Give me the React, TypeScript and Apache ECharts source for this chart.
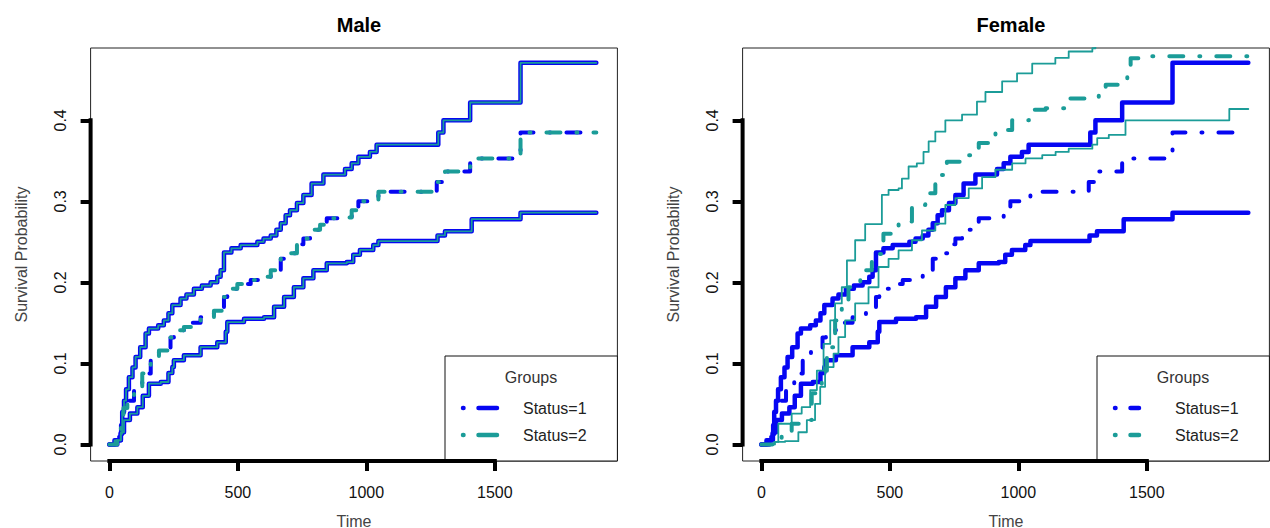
import React, { useEffect, useRef } from "react";
import * as echarts from "echarts";

// ---------- data ----------
const panelTitles = ["Male", "Female"];
const legendTitle = "Groups";
const groupLabels = ["Status=1", "Status=2"];
const xTicks = [0, 500, 1000, 1500];
const yTicks = [0, 0.1, 0.2, 0.3, 0.4];
const xAxisName = "Time";
const yAxisName = "Survival Probability";

// curves shared by Male Status=1, Male Status=2 and Female Status=1 (identical in the picture)
const sharedUpper = [
  [0, 0], [20, 0.005], [44, 0.013], [50, 0.04], [57, 0.054], [65, 0.068], [76, 0.083], [90, 0.095],
  [102, 0.108], [120, 0.12], [141, 0.137], [154, 0.143], [190, 0.147], [212, 0.153], [230, 0.162],
  [245, 0.172], [277, 0.18], [300, 0.185], [329, 0.192], [360, 0.196], [394, 0.2], [420, 0.207],
  [433, 0.215], [446, 0.237], [475, 0.242], [511, 0.246], [576, 0.25], [600, 0.254], [628, 0.258],
  [650, 0.265], [667, 0.273], [686, 0.283], [703, 0.289], [730, 0.298], [755, 0.308], [787, 0.322],
  [833, 0.333], [917, 0.34], [943, 0.347], [969, 0.355], [1014, 0.361], [1040, 0.37], [1280, 0.385],
  [1300, 0.4], [1404, 0.422], [1600, 0.471], [1895, 0.471],
];
const sharedEst = [
  [0, 0], [30, 0.009], [45, 0.03], [55, 0.045], [70, 0.054], [96, 0.071], [128, 0.0875], [161, 0.108],
  [193, 0.116], [238, 0.132], [251, 0.141], [290, 0.145], [320, 0.15], [355, 0.157], [407, 0.165],
  [446, 0.182], [459, 0.192], [498, 0.198], [550, 0.203], [602, 0.207], [628, 0.215], [667, 0.229],
  [700, 0.236], [730, 0.247], [755, 0.254], [781, 0.265], [820, 0.271], [846, 0.279], [910, 0.28],
  [943, 0.289], [969, 0.3], [1014, 0.301], [1047, 0.312], [1274, 0.324], [1306, 0.337], [1404, 0.353],
  [1600, 0.385], [1895, 0.385],
];
const sharedLower = [
  [0, 0], [31, 0.005], [45, 0.015], [57, 0.03], [80, 0.038], [109, 0.046], [130, 0.06], [154, 0.075],
  [200, 0.077], [230, 0.088], [245, 0.0955], [251, 0.104], [290, 0.11], [355, 0.12], [420, 0.126],
  [453, 0.139], [459, 0.151], [524, 0.155], [602, 0.157], [641, 0.17], [680, 0.182], [718, 0.194],
  [755, 0.205], [794, 0.215], [846, 0.2235], [924, 0.225], [949, 0.234], [975, 0.24], [1027, 0.246],
  [1047, 0.251], [1277, 0.258], [1306, 0.263], [1410, 0.278], [1600, 0.286], [1895, 0.286],
];

// Female Status=2
const femaleS2Upper = [
  [0, 0], [50, 0.003], [66, 0.0255], [118, 0.038], [157, 0.046], [190, 0.067], [216, 0.091],
  [242, 0.124], [268, 0.153], [287, 0.174], [313, 0.194], [333, 0.227], [365, 0.252], [404, 0.272],
  [469, 0.308], [495, 0.314], [534, 0.316], [547, 0.328], [573, 0.343], [605, 0.347], [631, 0.361],
  [651, 0.374], [677, 0.386], [716, 0.4], [781, 0.407], [839, 0.423], [872, 0.435], [937, 0.448],
  [995, 0.458], [1054, 0.47], [1144, 0.477], [1196, 0.485], [1288, 0.489], [1300, 0.495], [1895, 0.52],
];
const femaleS2Est = [
  [0, 0], [60, 0.005], [79, 0.013], [118, 0.0255], [151, 0.03], [196, 0.063], [235, 0.091],
  [255, 0.12], [287, 0.153], [313, 0.174], [339, 0.194], [385, 0.215], [430, 0.235], [475, 0.26],
  [534, 0.275], [586, 0.2955], [638, 0.31], [677, 0.3325], [722, 0.349], [794, 0.357], [846, 0.372],
  [911, 0.388], [976, 0.4], [1041, 0.413], [1106, 0.415], [1184, 0.427], [1261, 0.429], [1313, 0.44],
  [1340, 0.444], [1392, 0.45], [1424, 0.462], [1437, 0.4765], [1497, 0.479], [1895, 0.479],
];
const femaleS2Lower = [
  [0, 0], [53, 0.003], [92, 0.004], [144, 0.015], [177, 0.03], [209, 0.05], [229, 0.071],
  [248, 0.0955], [281, 0.112], [300, 0.1325], [326, 0.153], [365, 0.174], [417, 0.194], [456, 0.219],
  [495, 0.229], [534, 0.2395], [586, 0.252], [625, 0.264], [677, 0.2725], [716, 0.2955], [755, 0.304],
  [807, 0.316], [859, 0.33], [911, 0.339], [976, 0.347], [1028, 0.353], [1093, 0.357], [1145, 0.361],
  [1196, 0.365], [1288, 0.37], [1307, 0.378], [1352, 0.382], [1417, 0.4], [1821, 0.414], [1895, 0.414],
];

const panelCurves = [
  [
    { upper: sharedUpper, est: sharedEst, lower: sharedLower },
    { upper: sharedUpper, est: sharedEst, lower: sharedLower },
  ],
  [
    { upper: sharedUpper, est: sharedEst, lower: sharedLower },
    { upper: femaleS2Upper, est: femaleS2Est, lower: femaleS2Lower },
  ],
];

// ---------- style / layout ----------
const FONT = '"Liberation Sans", Arial, Helvetica, sans-serif';
const BLUE = "#0606f2";
const TEAL = "#1b9c98";
const groupColors = [BLUE, TEAL];
const XMIN = -73;
const XMAX = 1977;
const YMIN = -0.0205;
const YMAX = 0.4893;
const gridLefts = [90.6, 742.6];
const GRID_W = 526.8;
const GRID_TOP = 48;
const GRID_H = 413;
const DOTDASH = [1, 16, 14, 16];

function curve(data: number[][], g: number, color: string, width: number, dotdash: boolean, offset = 0) {
  return {
    type: "line",
    xAxisIndex: g,
    yAxisIndex: g,
    data,
    step: "end",
    symbol: "none",
    silent: true,
    clip: true,
    lineStyle: {
      color,
      width,
      type: dotdash ? DOTDASH : "solid",
      dashOffset: offset,
      cap: "round",
      join: "round",
    },
  };
}

export default function App() {
  const ref = useRef<HTMLDivElement>(null);
  useEffect(() => {
    if (!ref.current) return;
    const chart = echarts.init(ref.current, null, { renderer: "svg" });

    const grids: any[] = [];
    const xAxes: any[] = [];
    const yAxes: any[] = [];
    const series: any[] = [];
    const titles: any[] = [];
    const graphics: any[] = [];

    panelTitles.forEach((t, g) => {
      const left = gridLefts[g];
      grids.push({
        left,
        top: GRID_TOP,
        width: GRID_W,
        height: GRID_H,
        show: true,
        borderColor: "#222",
        borderWidth: 1,
        backgroundColor: "transparent",
        containLabel: false,
        outerBoundsMode: "none",
      });
      xAxes.push({
        gridIndex: g,
        type: "value",
        min: XMIN,
        max: XMAX,
        axisLine: { show: false, onZero: false },
        splitLine: { show: false },
        axisTick: { show: true, customValues: xTicks, length: 10, lineStyle: { color: "#000", width: 4 } },
        axisLabel: {
          customValues: xTicks,
          margin: 23,
          fontSize: 16,
          color: "#111",
          fontFamily: FONT,
          formatter: (v: number) => String(v),
        },
        name: xAxisName,
        nameLocation: "middle",
        nameGap: 52,
        nameTextStyle: { fontSize: 16, color: "#444", fontFamily: FONT },
      });
      yAxes.push({
        gridIndex: g,
        type: "value",
        min: YMIN,
        max: YMAX,
        axisLine: { show: false, onZero: false },
        splitLine: { show: false },
        axisTick: { show: true, customValues: yTicks, length: 10, lineStyle: { color: "#000", width: 4 } },
        axisLabel: {
          customValues: yTicks,
          rotate: 90,
          margin: 22,
          fontSize: 16,
          color: "#111",
          fontFamily: FONT,
          formatter: (v: number) => v.toFixed(1),
        },
        name: yAxisName,
        nameLocation: "middle",
        nameGap: 61,
        nameTextStyle: { fontSize: 16, color: "#444", fontFamily: FONT },
      });
      titles.push({
        text: t,
        left: left + GRID_W / 2,
        top: 10,
        textAlign: "center",
        textStyle: { fontSize: 20, fontWeight: "bold", color: "#000", fontFamily: FONT },
      });

      // curves: Status=1 first, then Status=2 on top
      panelCurves[g].forEach((c, k) => {
        const color = groupColors[k];
        const ciWidth = k === 0 ? 4.5 : 1.8;
        series.push(curve(c.upper, g, color, ciWidth, false));
        series.push(curve(c.lower, g, color, ciWidth, false));
        series.push(curve(c.est, g, color, 4, true, k === 0 ? 0 : 20));
      });

      // R-style thick axis lines spanning first..last tick
      series.push({
        type: "line", xAxisIndex: g, yAxisIndex: g, symbol: "none", silent: true, clip: false, z: 5,
        data: [[xTicks[0], YMIN], [xTicks[xTicks.length - 1], YMIN]],
        lineStyle: { color: "#000", width: 4, cap: "square" },
      });
      series.push({
        type: "line", xAxisIndex: g, yAxisIndex: g, symbol: "none", silent: true, clip: false, z: 5,
        data: [[XMIN, yTicks[0]], [XMIN, yTicks[yTicks.length - 1]]],
        lineStyle: { color: "#000", width: 4, cap: "square" },
      });

      // legend box
      const lx = left + GRID_W - 172.4;
      const sampleLen = g === 0 ? 34 : 24;
      const children: any[] = [
        {
          type: "rect",
          shape: { x: lx, y: 356, width: 172.4, height: 105 },
          style: { fill: "#fff", stroke: "#111", lineWidth: 1 },
        },
        {
          type: "text",
          x: lx + 86,
          y: 377,
          style: { text: legendTitle, fill: "#333", fontSize: 16, fontFamily: FONT, align: "center", verticalAlign: "middle" },
        },
      ];
      groupLabels.forEach((lab, k) => {
        const yy = 408 + k * 27;
        children.push({
          type: "line",
          shape: { x1: lx + 18, y1: yy, x2: lx + 18 + sampleLen, y2: yy },
          style: { stroke: groupColors[k], lineWidth: 4.5, lineDash: [0.5, 15, 30, 100], lineCap: "round" },
        });
        children.push({
          type: "text",
          x: lx + 78,
          y: yy,
          style: { text: lab, fill: "#222", fontSize: 16, fontFamily: FONT, align: "left", verticalAlign: "middle" },
        });
      });
      graphics.push({ type: "group", z: 100, children });
    });

    chart.setOption({
      animation: false,
      backgroundColor: "#fff",
      textStyle: { fontFamily: FONT },
      title: titles,
      grid: grids,
      xAxis: xAxes,
      yAxis: yAxes,
      series,
      graphic: graphics,
    });
    return () => chart.dispose();
  }, []);
  return (
    <div
      ref={ref}
      style={{ position: "absolute", left: 0, top: 0, width: 1270, height: 528 }}
    />
  );
}
